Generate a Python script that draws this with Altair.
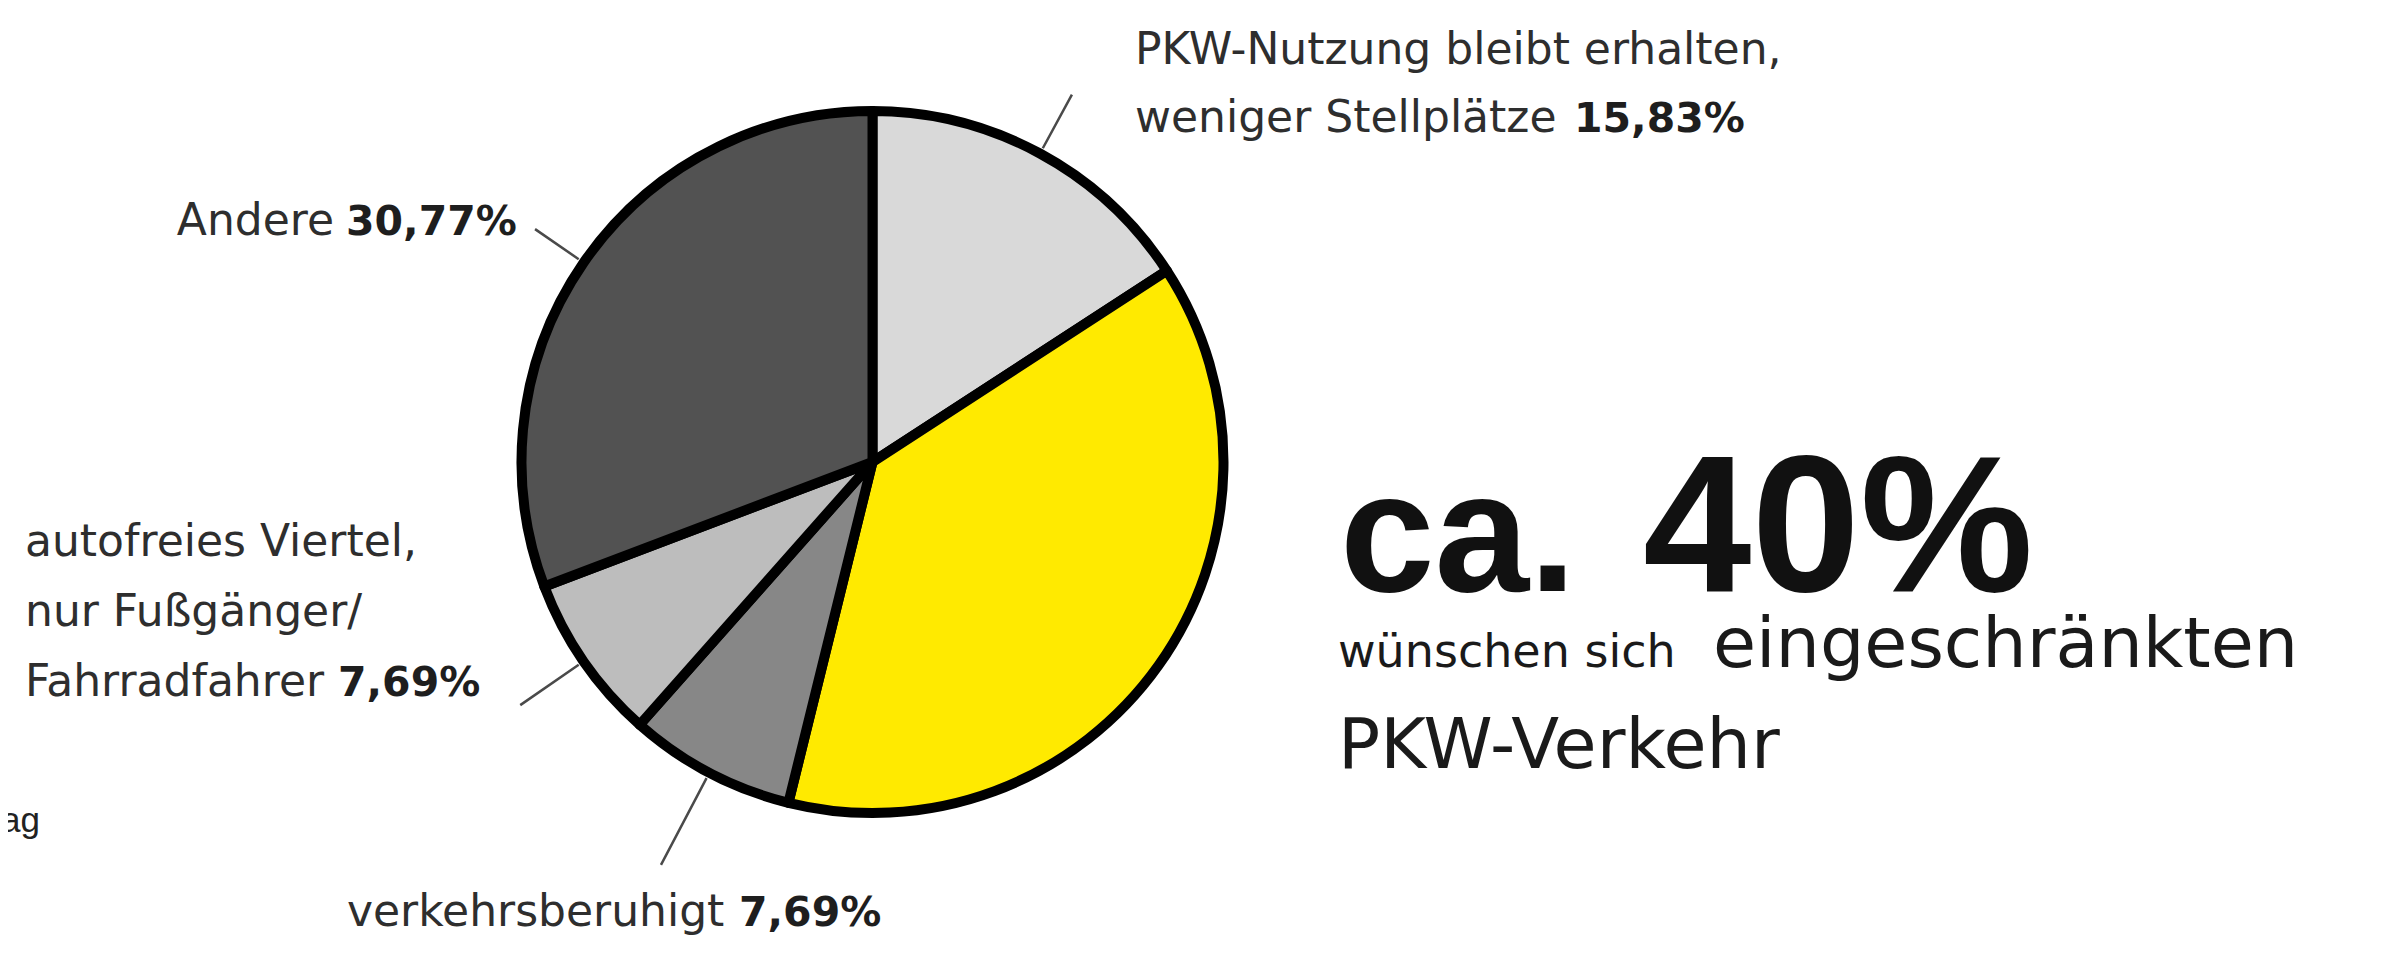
import math
import altair as alt
import pandas as pd

# ---------------- data ----------------
categories = [
    "PKW-Nutzung bleibt erhalten, weniger Stellplätze",
    "eingeschränkter PKW-Verkehr",
    "verkehrsberuhigt",
    "autofreies Viertel, nur Fußgänger/Fahrradfahrer",
    "Andere",
]
values = [15.83, 38.02, 7.69, 7.69, 30.77]
colors = ["#d9d9d9", "#ffea00", "#878787", "#bdbdbd", "#525252"]

headline_big = ["ca.", "40%"]
headline_small = ["wünschen sich", "eingeschränkten", "PKW-Verkehr"]

# ---------------- layout (page pixels) ----------------
M = 8  # page margin
CX, CY = 872.5 - M, 462 - M
R = 351
leader_inner = 357
leader_outer = [418, None, 455, 428, 410]


def pct(v):
    return f"{v:.2f}".replace(".", ",") + "%"


df = pd.DataFrame({"cat": categories, "value": values})
df["end"] = df["value"].cumsum()
df["start"] = df["end"] - df["value"]
df["mid"] = df["start"] + df["value"] / 2
df["r_out"] = leader_outer
df["r_in"] = leader_inner

theta_scale = alt.Scale(domain=[0, 100], range=[0, 2 * math.pi])

pie = alt.Chart(df).mark_arc(
    outerRadius=R, stroke="#000000", strokeWidth=10, strokeJoin="round"
).encode(
    theta=alt.Theta("start:Q", stack=None, scale=theta_scale),
    theta2="end:Q",
    color=alt.Color("cat:N", scale=alt.Scale(domain=categories, range=colors), legend=None),
    x=alt.value(CX),
    y=alt.value(CY),
)

lead_df = df.dropna(subset=["r_out"])
leaders = alt.Chart(lead_df).mark_arc(
    fillOpacity=0, stroke="#4a4a4a", strokeWidth=2.5
).encode(
    theta=alt.Theta("mid:Q", stack=None, scale=theta_scale),
    theta2="mid:Q",
    radius=alt.Radius("r_out:Q", scale=None),
    radius2="r_in:Q",
    x=alt.value(CX),
    y=alt.value(CY),
)

LAB_FONT = "DejaVu Sans"
LAB_SIZE = 44
PCT_SIZE = 41
LAB_COL = "#2e2e2e"
PCT_COL = "#1e1e1e"


def txt(s, x, y, size, font=LAB_FONT, weight="normal", color=LAB_COL, align="left"):
    return alt.Chart(pd.DataFrame({"t": [s]})).mark_text(
        align=align, baseline="alphabetic", font=font, fontSize=size,
        fontWeight=weight, color=color,
    ).encode(x=alt.value(x - M), y=alt.value(y - M), text="t:N")


texts = [
    # PKW-Nutzung
    txt("PKW-Nutzung bleibt erhalten,", 1135, 64, LAB_SIZE),
    txt("weniger Stellplätze", 1135, 132, LAB_SIZE),
    txt(pct(values[0]), 1574, 132, PCT_SIZE, weight="bold", color=PCT_COL),
    # Andere
    txt("Andere", 334, 235, LAB_SIZE, align="right"),
    txt(pct(values[4]), 346, 235, PCT_SIZE, weight="bold", color=PCT_COL),
    # autofreies Viertel
    txt("autofreies Viertel,", 25, 556, LAB_SIZE),
    txt("nur Fußgänger/", 25, 626, LAB_SIZE),
    txt("Fahrradfahrer", 25, 696, LAB_SIZE),
    txt(pct(values[3]), 338, 696, PCT_SIZE, weight="bold", color=PCT_COL),
    # verkehrsberuhigt
    txt("verkehrsberuhigt", 347, 926, LAB_SIZE),
    txt(pct(values[2]), 739, 926, PCT_SIZE, weight="bold", color=PCT_COL),
    # headline
    txt(headline_big[0], 1340, 591, 170, font="Liberation Sans", weight="bold", color="#111111"),
    txt(headline_big[1], 1643, 591, 195, font="Liberation Sans", weight="bold", color="#111111"),
    txt(headline_small[0], 1338, 667, 46, color="#1a1a1a"),
    txt(headline_small[1], 1713, 667, 70, color="#1a1a1a"),
    txt(headline_small[2], 1338, 768, 70, color="#1a1a1a"),
    # cut-off note at left edge
    txt("ag", 40, 832, 35, font="Liberation Sans", color="#222222", align="right"),
]

chart = alt.layer(pie, leaders, *texts).properties(
    width=2365,
    height=930,
    autosize=alt.AutoSizeParams(type="none"),
    padding=0,
    background="#ffffff",
).configure_view(stroke=None)

chart.save("out.html", embed_options={"renderer": "svg", "actions": False})
